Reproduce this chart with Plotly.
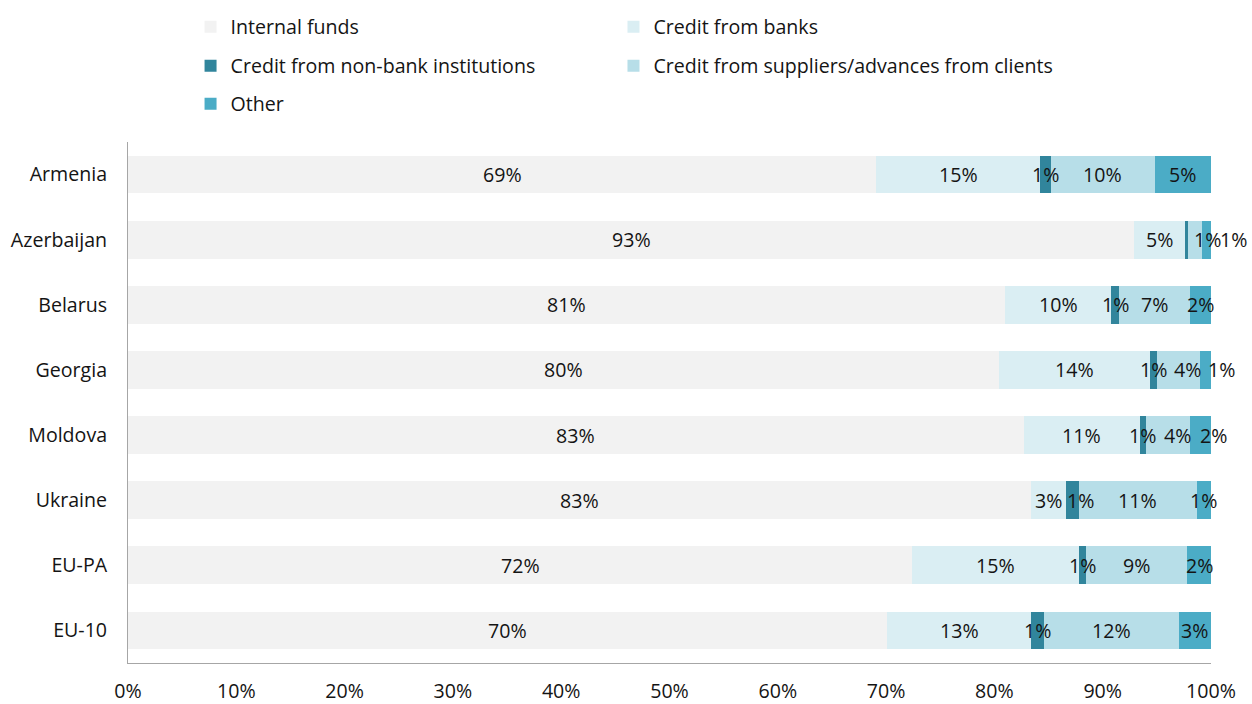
import plotly.graph_objects as go

# Sources of investment finance, share of total (%)
countries = ["Armenia", "Azerbaijan", "Belarus", "Georgia", "Moldova", "Ukraine", "EU-PA", "EU-10"]
series_names = [
    "Internal funds",
    "Credit from banks",
    "Credit from non-bank institutions",
    "Credit from suppliers/advances from clients",
    "Other",
]
internal_funds = [69.1, 92.9, 81.0, 80.4, 82.7, 83.4, 72.4, 70.1]
credit_banks = [15.1, 4.7, 9.8, 14.0, 10.7, 3.2, 15.4, 13.3]
credit_non_bank = [1.0, 0.3, 0.7, 0.6, 0.6, 1.2, 0.7, 1.2]
credit_suppliers = [9.6, 1.3, 6.6, 4.0, 4.1, 10.9, 9.3, 12.4]
other = [5.2, 0.8, 1.9, 1.0, 1.9, 1.3, 2.2, 3.0]

x_tick_values = list(range(0, 101, 10))
x_tick_labels = [f"{t}%" for t in x_tick_values]

series_values = [internal_funds, credit_banks, credit_non_bank, credit_suppliers, other]
colors = ["#F2F2F2", "#DAEEF3", "#31859C", "#B7DEE8", "#4BACC6"]

# one legend box per entry, laid out as a two-column grid (container coords)
legend_ids = ["legend", "legend2", "legend3", "legend4", "legend5"]
legend_x = [0.1522, 0.49, 0.1522, 0.49, 0.1522]
legend_y = [0.9616, 0.9616, 0.9063, 0.9063, 0.8523]

# small horizontal nudges for crowded labels near the right end
label_nudge = {
    ("Azerbaijan", 3): 12, ("Azerbaijan", 4): 27,
    ("Georgia", 3): 9, ("Georgia", 4): 16,
    ("Moldova", 3): 9, ("Moldova", 4): 13,
    ("Ukraine", 2): 8,
}

FONT = "Open Sans"
FS = 19.6
TXT = "#141414"

fig = go.Figure()
for name, vals, col, lg in zip(series_names, series_values, colors, legend_ids):
    fig.add_trace(go.Bar(
        y=countries, x=vals, name=name, orientation="h",
        marker=dict(color=col, line=dict(width=0)),
        legend=lg, showlegend=True, hoverinfo="x+name",
    ))

annotations = []
for i, c in enumerate(countries):
    start = 0.0
    for j, vals in enumerate(series_values):
        v = vals[i]
        label = f"{v:.0f}%"
        if label != "0%":
            annotations.append(dict(
                x=start + v / 2, y=c, xref="x", yref="y", text=label,
                showarrow=False, xshift=label_nudge.get((c, j), 0),
                font=dict(family=FONT, size=FS, color=TXT),
            ))
        start += v

legends = {}
for lg, lx, ly in zip(legend_ids, legend_x, legend_y):
    legends[lg] = dict(
        orientation="h", xref="container", yref="container",
        x=lx, y=ly, xanchor="left", yanchor="middle",
        font=dict(family=FONT, size=FS, color=TXT),
        bgcolor="rgba(0,0,0,0)", visible=True,
    )

fig.update_layout(
    width=1252, height=704,
    margin=dict(l=128, r=41, t=142, b=41, autoexpand=False),
    paper_bgcolor="white", plot_bgcolor="white",
    showlegend=True,
    barmode="stack", bargap=0.42,
    font=dict(family=FONT, size=FS, color=TXT),
    annotations=annotations,
    **legends,
    xaxis=dict(
        range=[0, 100], tickmode="array", tickvals=x_tick_values, ticktext=x_tick_labels,
        showgrid=False, zeroline=False, showline=True, linecolor="#A6A6A6",
        linewidth=1, ticks="", ticklabelstandoff=10, automargin=False,
        tickfont=dict(family=FONT, size=FS, color=TXT),
    ),
    yaxis=dict(
        categoryorder="array", categoryarray=countries, autorange="reversed",
        showgrid=False, zeroline=False, showline=True, linecolor="#A6A6A6",
        linewidth=1, ticks="", ticklabelstandoff=16, automargin=False,
        tickfont=dict(family=FONT, size=FS, color=TXT),
    ),
)

fig.write_html("out.html")
